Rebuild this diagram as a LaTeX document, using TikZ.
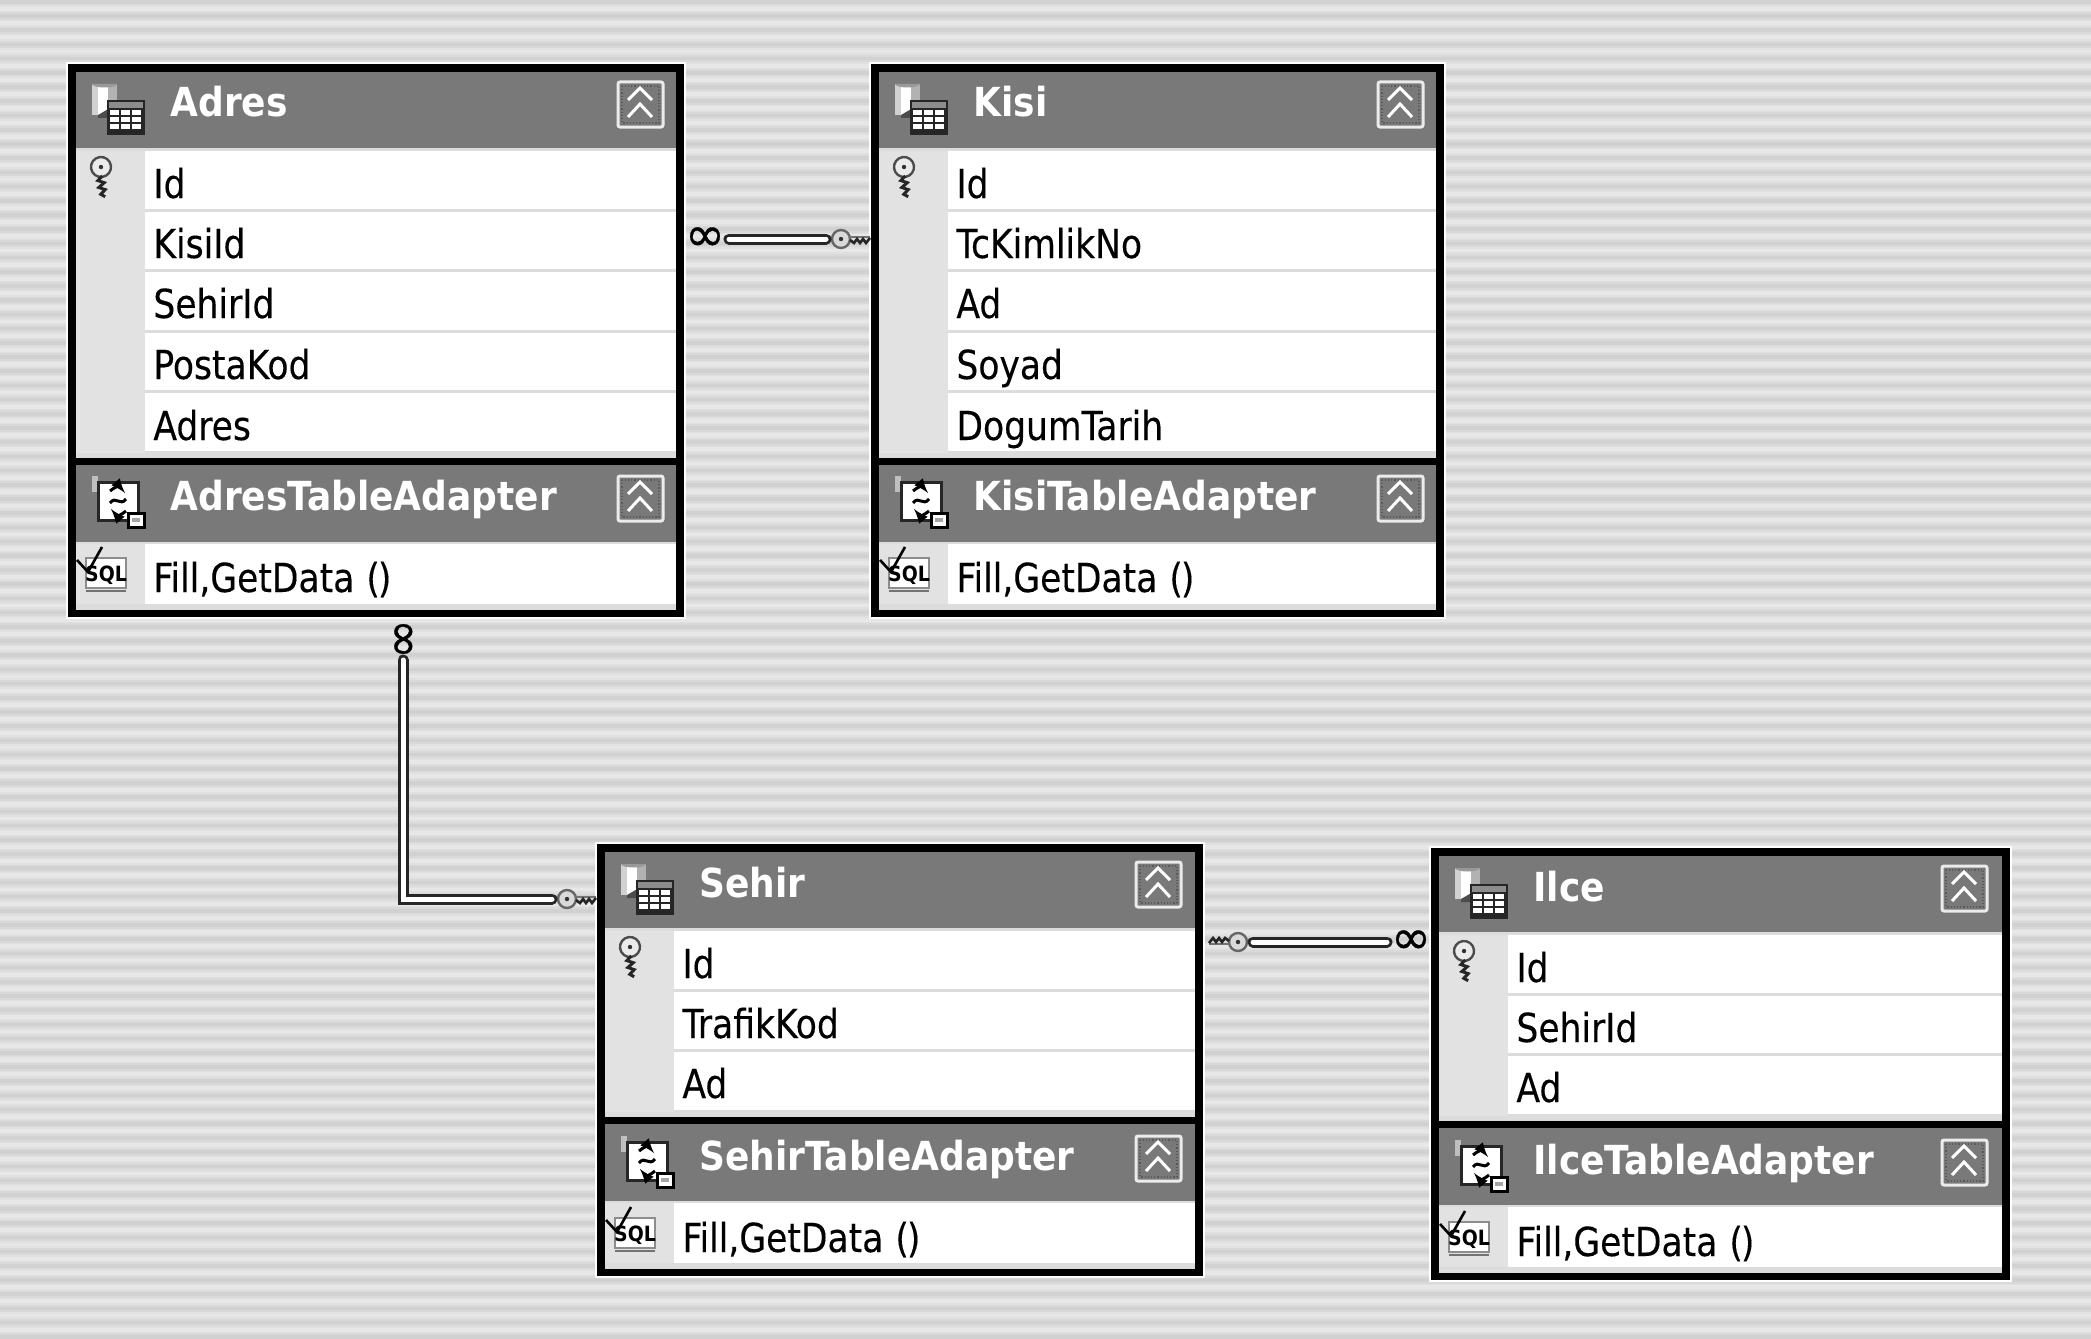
\documentclass[tikz,border=0pt]{standalone}
\usepackage{fontspec}
\setmainfont{DejaVu Sans Condensed}
\newfontfamily\rowfont[FakeStretch=0.96,FakeBold=0.25,WordSpace=1.1]{DejaVu Sans Condensed}
\newfontfamily\relfont[FakeBold=0.6]{DejaVu Sans}
\definecolor{headgrey}{HTML}{797979}
\definecolor{guttergrey}{HTML}{E2E2E2}
\definecolor{sepgrey}{HTML}{DCDCDC}
\definecolor{stripefaint}{HTML}{E0E0E0}
\definecolor{stripesoft}{HTML}{D9D9D9}
\definecolor{stripedark}{HTML}{D1D1D1}
\definecolor{stripelight}{HTML}{E7E7E7}
\tikzset{
  rowtext/.style={anchor=base west,inner sep=0pt,text=black,font=\rowfont\fontsize{20}{24}\selectfont},
  headtext/.style={anchor=base west,inner sep=0pt,text=white,font=\fontsize{20}{24}\selectfont\bfseries},
  relline/.style={draw=black!85,line width=1.5pt,double=white,double distance=2.5pt,line cap=round},
  manyend/.style={inner sep=0pt,outer sep=2pt,font=\relfont\fontsize{24}{24}\selectfont},
  oneend/.style={inner sep=0pt,outer sep=3pt,minimum width=38pt*0.5,minimum height=20pt*0.5},
  dbicon/.pic={
    \fill[black!18] (24,12) rectangle (30,43);
    \fill[white] (30,12) rectangle (40,45);
    \fill[black!30] (40,12) rectangle (49,43);
    \fill[black!40] (24,12) arc[x radius=12.5,y radius=3.5,start angle=180,end angle=0] -- cycle;
    \fill[black!70] (30,46) -- (42,46) -- (42,36) -- (30,43) -- cycle;
    \fill[black!85] (39,28) rectangle (77,63);
    \fill[black!45] (41,30) rectangle (75,36);
    \foreach \cx in {42,53,64} {\foreach \cy in {38,45,52} {\fill[white] (\cx,\cy) rectangle +(9,5);}}
  },
  adaptericon/.pic={
    \fill[black!25] (24,11) rectangle (30,27);
    \fill[white,draw=black!85,line width=1.5pt] (30,17) rectangle (70,55);
    \draw[black,line width=1.5pt,-latex] (42,26) .. controls (46,22) and (52,22) .. (57,28);
    \draw[black,line width=1.5pt,-latex] (58,46) .. controls (54,50) and (48,50) .. (43,44);
    \draw[black,line width=1.5pt] (42,38) .. controls (48,30) and (52,42) .. (58,34);
    \fill[white,draw=black,line width=1.5pt] (60,48) rectangle (76,62);
    \fill[black!35] (64,53) rectangle (72,57);
  },
  sqlicon/.pic={
    \fill[white,draw=black!45,line width=.8pt] (18,16) rectangle (58,46);
    \fill[black!55] (18,48) rectangle (58,50);
    \node[inner sep=0pt,font=\fontsize{10.5}{11}\selectfont\bfseries] (label) at (38,33) {SQL};
    \draw[black,line width=1.3pt] (9,18) -- (20,30) -- (34,5);
  },
  keygut/.pic={
    \draw[black!70,line width=1.2pt,fill=black!8] (0,0) circle[radius=10];
    \fill[black!80] (0,0) circle[radius=2.2];
    \draw[black!85,line width=1.5pt] (9,0) -- (13,5) -- (16,-1) -- (20,5) -- (23,-1) -- (27,4) -- (30,0);
  },
  keyrel/.pic={
    \draw[black!60,line width=1.2pt,fill=white!85!black] (-10,0) circle[radius=9];
    \fill[black!80] (-10,0) circle[radius=2.2];
    \draw[black!55,line width=.8pt] (-2,-2) -- (19,-2);
    \draw[black!85,line width=1.3pt] (-1,1) -- (3,4) -- (6,0) -- (9,4) -- (12,0) -- (15,4) -- (19,-1);
  },
  hidebutton/.pic={
    \draw[black!65,line width=.6pt,densely dotted] (4,4) rectangle (41,41);
    \draw[white!92!black,line width=1.5pt,rounded corners=1pt] (0,0) rectangle (45,45);
    \draw[white,line width=1.5pt] (10,18) -- (22,6) -- (34,18);
    \draw[white,line width=1.5pt] (10,35) -- (22,22) -- (34,35);
  }
}
% x0,y0,x1,rows
\newcommand{\tableframe}[4]{
  \pgfmathsetmacro{\xin}{#1+8}
  \pgfmathsetmacro{\xout}{#3-8}
  \pgfmathsetmacro{\xgut}{#1+77}
  \pgfmathsetmacro{\ytop}{#2+8}
  \pgfmathsetmacro{\yhead}{#2+84}
  \pgfmathsetmacro{\yrow}{#2+87}
  \pgfmathsetmacro{\ybar}{#2+91+#4*60.6}
  \pgfmathsetmacro{\ybarend}{\ybar+7}
  \pgfmathsetmacro{\yad}{\ybar+84}
  \pgfmathsetmacro{\ybot}{\ybar+159}
  \pgfmathsetmacro{\yin}{\ybar+152}
  \fill[white] (#1-2,#2-2) rectangle (#3+2,\ybot+2);
  \fill[black] (#1,#2) rectangle (#3,\ybot);
  \fill[headgrey] (\xin,\ytop) rectangle (\xout,\yhead);
  \fill[sepgrey] (\xin,\yhead) rectangle (\xout,\yrow);
  \fill[white] (\xin,\yrow) rectangle (\xout,\ybar);
  \fill[guttergrey] (\xin,\yrow) rectangle (\xgut,\ybar);
  \foreach \k in {1,...,#4} {\fill[sepgrey] (\xgut,#2+84+\k*60.6) rectangle (\xout,#2+87+\k*60.6);}
  \fill[sepgrey] (\xin,\ybar-5) rectangle (\xout,\ybar);
  \fill[headgrey] (\xin,\ybarend) rectangle (\xout,\yad);
  \fill[white] (\xin,\yad) rectangle (\xout,\yin);
  \fill[guttergrey] (\xin,\yad) rectangle (\xgut,\yin);
  \fill[sepgrey] (\xin,\yad) rectangle (\xout,\yad+2);
  \fill[sepgrey] (\xin,\yin-6) rectangle (\xout,\yin);
}
\newcommand{\parens}{(\kern-1pt)}
\begin{document}
\begin{tikzpicture}[x=0.5pt,y=-0.5pt]
\useasboundingbox (0,0) rectangle (2091,1338);
\fill[stripelight] (0,0) rectangle (2091,1338);
\foreach \k in {0,...,94} {
  \fill[stripefaint] (0,1.9+\k*14.2-5.2) rectangle (2091,1.9+\k*14.2+5.2);
  \fill[stripesoft] (0,1.9+\k*14.2-3.6) rectangle (2091,1.9+\k*14.2+3.6);
  \fill[stripedark] (0,1.9+\k*14.2-1.8) rectangle (2091,1.9+\k*14.2+1.8);
}
% Adres
\tableframe{68}{64}{684}{5}
\pic at (68,72) {dbicon};
\node[headtext] (adresTitle) at (170,117) {Adres};
\pic at (618,82) {hidebutton};
\pic[rotate=-82] at (101,167) {keygut};
\node[rowtext] (adresId) at (153,198) {Id};
\node[rowtext] (adresKisiId) at (153,258) {KisiId};
\node[rowtext] (adresSehirId) at (153,318) {SehirId};
\node[rowtext] (adresPostaKod) at (153,379) {PostaKod};
\node[rowtext] (adresAdres) at (153,440) {Adres};
\pic at (68,465) {adaptericon};
\node[headtext] (adresAdapter) at (170,510) {AdresTableAdapter};
\pic at (618,476) {hidebutton};
\pic (adresSql) at (68,542) {sqlicon};
\node[rowtext] (adresFill) at (153,592) {Fill,GetData \parens};
% Kisi
\tableframe{871}{64}{1444}{5}
\pic at (871,72) {dbicon};
\node[headtext] (kisiTitle) at (973,117) {Kisi};
\pic at (1378,82) {hidebutton};
\pic[rotate=-82] at (904,167) {keygut};
\node[rowtext] (kisiId) at (956,198) {Id};
\node[rowtext] (kisiTcKimlikNo) at (956,258) {TcKimlikNo};
\node[rowtext] (kisiAd) at (956,318) {Ad};
\node[rowtext] (kisiSoyad) at (956,379) {Soyad};
\node[rowtext] (kisiDogumTarih) at (956,440) {DogumTarih};
\pic at (871,465) {adaptericon};
\node[headtext] (kisiAdapter) at (973,510) {KisiTableAdapter};
\pic at (1378,476) {hidebutton};
\pic (kisiSql) at (871,542) {sqlicon};
\node[rowtext] (kisiFill) at (956,592) {Fill,GetData \parens};
% Sehir
\tableframe{597}{844}{1203}{3}
\pic at (597,852) {dbicon};
\node[headtext] (sehirTitle) at (699,897) {Sehir};
\pic at (1136,862) {hidebutton};
\pic[rotate=-82] at (630,947) {keygut};
\node[rowtext] (sehirId) at (682,978) {Id};
\node[rowtext] (sehirTrafikKod) at (682,1038) {TrafikKod};
\node[rowtext] (sehirAd) at (682,1098) {Ad};
\pic at (597,1125) {adaptericon};
\node[headtext] (sehirAdapter) at (699,1170) {SehirTableAdapter};
\pic at (1136,1136) {hidebutton};
\pic (sehirSql) at (597,1202) {sqlicon};
\node[rowtext] (sehirFill) at (682,1252) {Fill,GetData \parens};
% Ilce
\tableframe{1431}{848}{2010}{3}
\pic at (1431,856) {dbicon};
\node[headtext] (ilceTitle) at (1533,901) {Ilce};
\pic at (1942,866) {hidebutton};
\pic[rotate=-82] at (1464,951) {keygut};
\node[rowtext] (ilceId) at (1516,982) {Id};
\node[rowtext] (ilceSehirId) at (1516,1042) {SehirId};
\node[rowtext] (ilceAd) at (1516,1102) {Ad};
\pic at (1431,1129) {adaptericon};
\node[headtext] (ilceAdapter) at (1533,1174) {IlceTableAdapter};
\pic at (1942,1140) {hidebutton};
\pic (ilceSql) at (1431,1206) {sqlicon};
\node[rowtext] (ilceFill) at (1516,1256) {Fill,GetData \parens};
% relations
\node[manyend] (adresToKisi) at (705,239) {∞};
\node[oneend] (kisiKey) at (851,239) {};
\pic at (kisiKey) {keyrel};
\draw[relline] (adresToKisi) -- (kisiKey);
\node[manyend,rotate=90] (adresToSehir) at (406,639) {∞};
\coordinate (adresLineTop) at (403,660);
\node[oneend] (sehirKey) at (577,899) {};
\pic at (sehirKey) {keyrel};
\draw[relline] (adresLineTop) |- (sehirKey);
\node[manyend] (ilceToSehir) at (1411,942) {∞};
\node[oneend] (sehirKeyTwo) at (1228,942) {};
\pic[rotate=180] at (sehirKeyTwo) {keyrel};
\draw[relline] (ilceToSehir) -- (sehirKeyTwo);
\end{tikzpicture}
\end{document}
